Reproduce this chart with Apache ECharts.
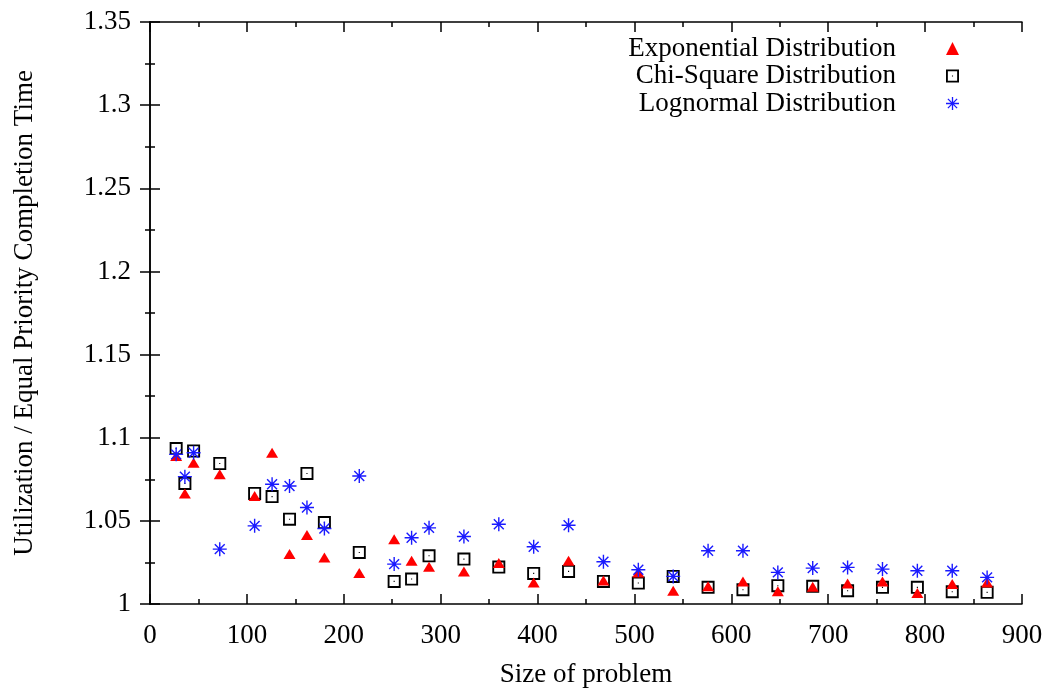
<!DOCTYPE html>
<html><head><meta charset="utf-8">
<script src="https://cdn.jsdelivr.net/npm/echarts@6/dist/echarts.min.js"></script>
<style>html,body{margin:0;padding:0;background:#fff}#c{width:1055px;height:688px}</style>
</head><body><div id="c"></div>
<script>
var sizes = [27,36,45,72,108,126,144,162,180,216,252,270,288,324,360,396,432,468,504,540,576,612,648,684,720,756,792,828,864];
var exponential = [1.089,1.0665,1.085,1.078,1.065,1.091,1.030,1.0415,1.028,1.0186,1.039,1.026,1.0224,1.0196,1.0246,1.013,1.026,1.0142,1.019,1.008,1.0106,1.0136,1.0076,1.0104,1.0124,1.0136,1.0066,1.012,1.013];
var chiSquare = [1.0935,1.0725,1.092,1.0845,1.0665,1.0646,1.051,1.0785,1.049,1.031,1.0136,1.015,1.029,1.027,1.0222,1.0184,1.0196,1.0136,1.0126,1.0166,1.010,1.0086,1.011,1.0106,1.008,1.010,1.010,1.0074,1.007];
var lognormal = [1.090,1.0766,1.091,1.033,1.047,1.072,1.071,1.058,1.0454,1.077,1.024,1.0398,1.0458,1.0406,1.048,1.0344,1.0474,1.0254,1.0206,1.0166,1.032,1.032,1.019,1.0216,1.022,1.021,1.020,1.020,1.016];
var seriesNames = ['Exponential Distribution','Chi-Square Distribution','Lognormal Distribution'];
var xTitle = 'Size of problem';
var yTitle = 'Utilization / Equal Priority Completion Time';

function pairs(ys){ return sizes.map(function(x,i){ return [x, ys[i]]; }); }

var FONT = 'Liberation Serif';
var FS = 27;
var squarePath = 'path://M0 0H14V14H0Z M2 2V12H12V2Z M6.4 6.4H7.6V7.6H6.4Z';
var starPath = 'path://M9 0H11V20H9Z M0 9H20V11H0Z M3.64 2.22L17.78 16.36L16.36 17.78L2.22 3.64Z M17.78 3.64L3.64 17.78L2.22 16.36L16.36 2.22Z';

var axisLine = {show:true, lineStyle:{color:'#000', width:1.5}};
function xAx(pos, labels){
  return {type:'value', position:pos, min:0, max:900, interval:100,
    axisLine:axisLine,
    axisTick:{show:true, inside:true, length:10, lineStyle:{color:'#000', width:1.5}},
    minorTick:{show:true, splitNumber:2, length:5, lineStyle:{color:'#000', width:1.5}},
    splitLine:{show:false},
    axisLabel:{show:labels, margin:18, color:'#000', fontFamily:FONT, fontSize:FS},
    name: labels ? xTitle : '', nameLocation:'middle', nameGap:57,
    nameTextStyle:{color:'#000', fontFamily:FONT, fontSize:FS}
  };
}
function yAx(pos, labels){
  return {type:'value', position:pos, min:1, max:1.35, interval:0.05,
    axisLine:axisLine,
    axisTick:{show:true, inside:true, length:10, lineStyle:{color:'#000', width:1.5}},
    minorTick:{show:true, splitNumber:2, length:5, lineStyle:{color:'#000', width:1.5}},
    splitLine:{show:false},
    axisLabel:{show:labels, margin:19, color:'#000', fontFamily:FONT, fontSize:FS, padding:[4,0,0,0]},
    name: labels ? yTitle : '', nameLocation:'middle', nameGap:112, nameRotate:90,
    nameTextStyle:{color:'#000', fontFamily:FONT, fontSize:FS}
  };
}

var chart = echarts.init(document.getElementById('c'), null, {renderer:'canvas'});
chart.setOption({
  animation:false,
  backgroundColor:'#fff',
  grid:{left:150, right:33, top:22, bottom:84, containLabel:false, outerBoundsMode:'none'},
  xAxis:[xAx('bottom', true), xAx('top', false)],
  yAxis:[yAx('left', true), yAx('right', false)],
  legend:{
    orient:'vertical', right:91, top:30, align:'right', itemGap:0.5,
    itemWidth:13, itemHeight:13,
    textStyle:{color:'#000', fontFamily:FONT, fontSize:FS, lineHeight:27, padding:[0,45,0,0]},
    data:seriesNames
  },
  series:[
    {name:seriesNames[0], type:'scatter', data:pairs(exponential), symbol:'triangle', symbolSize:[12,10],
     itemStyle:{color:'#ff0000', opacity:1}, z:3},
    {name:seriesNames[1], type:'scatter', data:pairs(chiSquare), symbol:squarePath, symbolSize:13,
     itemStyle:{color:'#000', opacity:1}, z:2},
    {name:seriesNames[2], type:'scatter', data:pairs(lognormal), symbol:starPath, symbolSize:14,
     itemStyle:{color:'#1a1aff', opacity:1}, z:4}
  ]
});
</script></body></html>
